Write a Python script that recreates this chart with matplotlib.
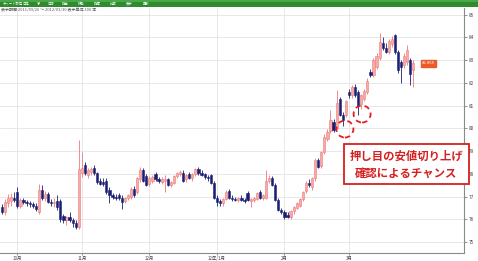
import matplotlib
matplotlib.use('Agg')
import matplotlib.pyplot as plt
from matplotlib.patches import Rectangle, Ellipse
import numpy as np
import pandas as pd

plt.rcParams['font.family'] = ['Noto Sans CJK JP', 'DejaVu Sans']

# ---------------- data ----------------
start_date = '2011-09-26'
end_date = '2012-03-30'

opens = [76.55, 76.30, 76.70, 76.80, 76.95, 77.20, 76.60, 76.85, 76.75, 76.70,
         76.65, 76.60, 76.30, 77.30, 76.95, 77.10, 76.75, 76.70, 76.80, 76.80,
         76.15, 75.95, 76.10, 75.95, 75.85, 75.65, 78.05, 78.40, 77.95, 78.10,
         78.25, 78.05, 77.70, 77.65, 77.70, 77.30, 77.05, 77.00, 77.05, 76.95,
         76.80, 76.95, 77.00, 77.35, 77.20, 77.75, 78.15, 77.90, 77.55, 77.70,
         78.00, 77.75, 77.65, 77.70, 77.75, 77.50, 77.60, 77.90, 78.00, 78.05,
         77.75, 78.00, 77.80, 78.00, 78.20, 78.05, 78.00, 77.85, 77.95, 77.60,
         76.95, 76.80, 76.70, 76.90, 77.25, 76.95, 76.90, 76.85, 76.95, 76.85,
         77.15, 76.80, 76.85, 76.90, 77.20, 76.95, 76.95, 77.70, 77.80, 77.50,
         76.85, 76.40, 76.30, 76.20, 76.10, 76.35, 76.50, 76.60, 76.90, 77.25,
         77.60, 77.40, 77.80, 78.60, 78.35, 78.95, 79.55, 79.90, 80.30, 80.00,
         81.30, 80.60, 80.60, 81.60, 81.45, 81.80, 81.60, 81.05, 81.30, 81.60,
         82.50, 82.35, 82.70, 83.10, 83.75, 83.55, 83.35, 83.70, 84.10, 83.35,
         82.90, 82.80, 82.90, 83.00, 82.55]
highs = [76.65, 76.90, 77.10, 77.15, 77.20, 77.40, 76.95, 76.95, 76.85, 76.80,
         76.75, 76.70, 77.55, 77.50, 77.25, 77.20, 76.90, 76.95, 77.05, 76.90,
         76.25, 76.15, 76.30, 76.05, 75.95, 79.50, 78.95, 78.50, 78.25, 78.30,
         78.40, 78.10, 77.80, 77.80, 77.80, 77.40, 77.15, 77.10, 77.15, 77.05,
         77.00, 77.10, 77.40, 77.45, 77.85, 78.30, 78.25, 78.00, 77.90, 77.95,
         78.10, 77.85, 77.85, 77.95, 77.80, 77.70, 77.95, 78.10, 78.15, 78.15,
         78.00, 78.10, 78.05, 78.25, 78.30, 78.15, 78.05, 77.95, 78.00, 77.70,
         77.05, 76.90, 76.95, 77.30, 77.35, 77.05, 77.00, 77.00, 77.05, 76.95,
         77.25, 76.95, 77.00, 77.20, 77.30, 77.10, 78.15, 77.95, 77.90, 77.60,
         76.95, 76.50, 76.40, 76.30, 76.40, 76.60, 76.75, 76.95, 77.25, 77.70,
         77.75, 77.85, 78.70, 78.70, 79.00, 79.75, 79.95, 80.80, 80.40, 81.70,
         81.40, 80.70, 81.25, 81.75, 81.90, 81.95, 81.70, 81.50, 81.75, 82.20,
         82.60, 83.10, 83.30, 84.20, 84.00, 83.75, 83.95, 84.05, 84.15, 83.45,
         83.00, 83.30, 83.65, 83.10, 83.00]
lows = [76.25, 76.20, 76.55, 76.60, 76.75, 76.50, 76.50, 76.65, 76.60, 76.55,
        76.50, 76.35, 76.25, 76.85, 76.80, 76.70, 76.60, 76.55, 76.40, 75.90,
        75.85, 75.75, 75.90, 75.65, 75.55, 75.55, 77.85, 77.95, 77.80, 77.95,
        77.95, 77.55, 77.50, 77.45, 77.10, 76.70, 76.90, 76.85, 76.85, 76.45,
        76.70, 76.85, 76.90, 77.00, 77.10, 77.65, 77.65, 77.45, 77.45, 77.60,
        77.70, 77.60, 77.55, 77.20, 77.45, 77.40, 77.55, 77.80, 77.90, 77.65,
        77.65, 77.75, 77.70, 77.90, 77.95, 77.90, 77.75, 77.70, 77.55, 76.90,
        76.60, 76.60, 76.60, 76.85, 76.90, 76.80, 76.80, 76.75, 76.80, 76.70,
        76.80, 76.55, 76.75, 76.85, 76.90, 76.85, 76.90, 77.60, 77.45, 76.80,
        76.35, 76.25, 76.00, 76.05, 76.00, 76.25, 76.45, 76.55, 76.80, 77.15,
        77.40, 77.30, 77.70, 78.25, 78.25, 78.85, 79.45, 79.80, 79.85, 79.95,
        80.55, 80.10, 80.50, 81.35, 81.35, 81.40, 80.60, 80.85, 81.20, 81.50,
        82.25, 82.25, 82.60, 83.00, 83.45, 83.30, 83.25, 83.60, 83.25, 82.45,
        82.00, 82.65, 82.80, 81.90, 81.80]
closes = [76.30, 76.75, 76.95, 77.00, 76.85, 76.60, 76.85, 76.75, 76.70, 76.65,
          76.60, 76.45, 77.30, 76.95, 77.10, 76.75, 76.70, 76.75, 76.55, 76.00,
          75.95, 76.10, 75.95, 75.85, 75.65, 78.20, 78.25, 78.05, 78.15, 78.20,
          78.05, 77.65, 77.55, 77.55, 77.20, 77.05, 76.97, 76.95, 76.95, 76.75,
          76.95, 77.05, 77.35, 77.05, 77.80, 78.15, 77.70, 77.50, 77.80, 77.85,
          77.75, 77.70, 77.75, 77.75, 77.50, 77.65, 77.90, 78.05, 78.10, 77.70,
          77.95, 77.80, 78.00, 78.20, 78.05, 77.95, 77.85, 77.80, 77.60, 76.95,
          76.75, 76.70, 76.90, 77.20, 76.95, 76.90, 76.85, 76.95, 76.85, 76.80,
          76.85, 76.90, 76.95, 77.15, 76.95, 77.05, 77.70, 77.80, 77.50, 76.85,
          76.40, 76.30, 76.10, 76.10, 76.35, 76.55, 76.70, 76.90, 77.20, 77.60,
          77.50, 77.80, 78.60, 78.30, 78.95, 79.60, 79.85, 80.35, 79.92, 81.10,
          80.60, 80.35, 81.20, 81.45, 81.80, 81.45, 81.00, 81.45, 81.65, 82.10,
          82.35, 83.00, 83.20, 83.80, 83.55, 83.35, 83.85, 83.95, 83.35, 82.55,
          82.70, 83.20, 83.45, 82.40, 82.858]

month_labels = ['10月', '11月', '12月', '12年/1月', '2月', '3月']
y_ticks = [75, 76, 77, 78, 79, 80, 81, 82, 83, 84, 85]
note_lines = ['押し目の安値切り上げ', '確認によるチャンス']
header_text = '表示期間 2011/09/26 ～ 2012/03/30 表示単位 100 本'
menu_items = ['チャート設定', '日足', '▼', '日時', '描画', '移動', '指標', '比較', '表示', '更新']
# circled pull-back lows (candle index, price)
circle_marks = [(111.7, 79.97), (117.3, 80.63)]

# ---------------- figure ----------------
W, H = 478, 261
fig = plt.figure(figsize=(W / 100, H / 100), dpi=100)
fig.patch.set_facecolor('white')

# pixel geometry: plot x 0..464, y 8..253
y_top_px, y_bot_px = 8, 253
ax = fig.add_axes([0, 1 - y_bot_px / H, 464 / W, (y_bot_px - y_top_px) / H])
ax.set_facecolor('white')

dates = pd.bdate_range(start_date, end_date)
n = len(closes)
idx = np.arange(n)
o = np.array(opens); h = np.array(highs); l = np.array(lows); c = np.array(closes)
up = c >= o

bull_face = '#f6aaaa'
bull_edge = '#ec7a7a'
bear_col = '#1b1f72'

# wicks
ax.vlines(idx[up], l[up], h[up], color=bull_edge, lw=0.6, zorder=3)
ax.vlines(idx[~up], l[~up], h[~up], color=bear_col, lw=0.6, zorder=3)
# bodies
body_lo = np.minimum(o, c)
body_h = np.maximum(np.abs(c - o), 0.03)
ax.bar(idx[up], body_h[up], bottom=body_lo[up], width=0.72,
       color=bull_face, edgecolor=bull_edge, linewidth=0.4, zorder=4)
ax.bar(idx[~up], body_h[~up], bottom=body_lo[~up], width=0.72,
       color=bear_col, edgecolor=bear_col, linewidth=0.4, zorder=4)

# axis limits: x pixel = 2 + 3.07*i ; 85 at y=14.7, 22.73 px per unit
px_per_idx = 3.07
ax.set_xlim(-2 / px_per_idx, (464 - 2) / px_per_idx)
ppu = 22.73
ax.set_ylim(85 - (y_bot_px - 14.7) / ppu, 85 + (14.7 - y_top_px) / ppu)

# month ticks from dates
month_pos = [i for i in range(1, n) if dates[i].month != dates[i - 1].month]
ax.set_xticks(month_pos)
ax.set_xticklabels(month_labels, fontsize=3.2, color='#444444')
ax.set_yticks(y_ticks)
ax.set_yticklabels([str(v) for v in y_ticks], fontsize=3.4, color='#444444')
ax.yaxis.tick_right()
ax.tick_params(axis='y', length=2, width=0.5, color='#666666', pad=1.5)
ax.tick_params(axis='x', length=1.5, width=0.5, color='#666666', pad=0.6)
ax.grid(True, color='#e4e4e4', lw=0.6, zorder=0)
ax.set_axisbelow(True)
for s in ['left', 'top']:
    ax.spines[s].set_visible(False)
for s in ['right', 'bottom']:
    ax.spines[s].set_color('#8a8a8a')
    ax.spines[s].set_linewidth(0.8)

# circles
for (cx, cy) in circle_marks:
    e = Ellipse((cx, cy), width=17 / px_per_idx, height=17 / ppu, fill=False,
                edgecolor='#e02020', lw=1.3, linestyle=(0, (3, 2.2)), zorder=6)
    ax.add_patch(e)

# last price label
ax.text(n + 1.8, closes[-1], f'{closes[-1]:.3f}', fontsize=3, color='white',
        ha='left', va='center', zorder=7, clip_on=False,
        bbox=dict(boxstyle='square,pad=0.35', fc='#ea5a2a', ec='#ea5a2a'))

# annotation box
fig.patches.append(Rectangle((344 / W, 1 - 184 / H), 125 / W, 40 / H,
                             transform=fig.transFigure, facecolor='white',
                             edgecolor='#d62020', lw=1.3, zorder=10))
fig.text(406.5 / W, 1 - 156 / H, note_lines[0], fontsize=8.2, fontweight='bold',
         color='#d42020', ha='center', va='center', zorder=11)
fig.text(406.5 / W, 1 - 173 / H, note_lines[1], fontsize=8.2, fontweight='bold',
         color='#d42020', ha='center', va='center', zorder=11)

# header bar
fig.patches.append(Rectangle((0, 1 - 7 / H), 1, 7 / H, transform=fig.transFigure,
                             facecolor='#2e8b2e', edgecolor='none', zorder=10))
fig.patches.append(Rectangle((0, 1 - 2 / H), 1, 2 / H, transform=fig.transFigure,
                             facecolor='#4aa84a', edgecolor='none', zorder=10))
xs = [3, 22, 37, 47, 62, 78, 94, 110, 126, 143]
for xm, t in zip(xs, menu_items):
    fig.text(xm / W, 1 - 3.8 / H, t, fontsize=2.4, color='white', ha='left',
             va='center', zorder=11)
fig.text(1 / W, 1 - 10.5 / H, header_text, fontsize=2.9, color='#555555',
         ha='left', va='center', zorder=11)

fig.savefig('out.png', dpi=100, facecolor='white')
